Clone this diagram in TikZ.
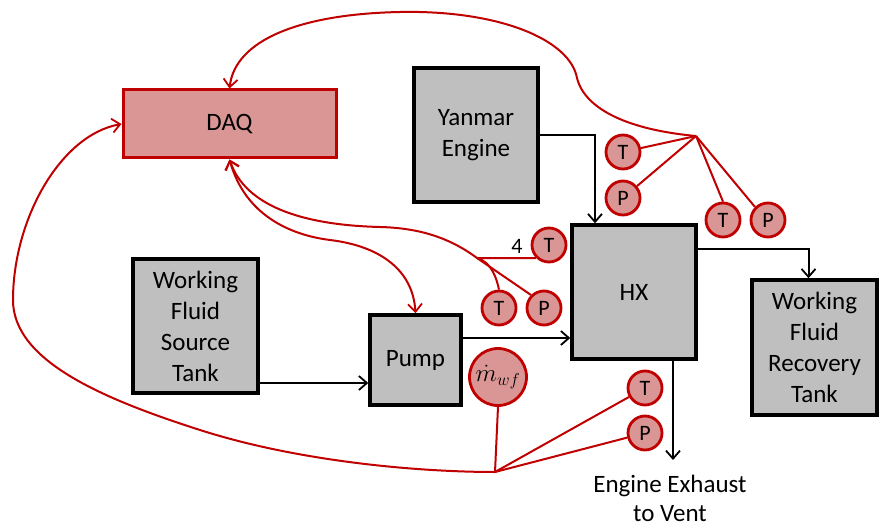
\documentclass[tikz,border=0pt]{standalone}
\usepackage{fontspec}
\setmainfont{Carlito}
\usetikzlibrary{arrows.meta}
\definecolor{dred}{HTML}{C00000}
\definecolor{pinkf}{HTML}{D99694}
\definecolor{boxgray}{HTML}{BFBFBF}
\begin{document}
\begin{tikzpicture}[x=1pt,y=-1pt,
 blk/.style={draw=black,line width=3.5pt,fill=boxgray,inner sep=0pt,align=center,font=\fontsize{25}{31}\selectfont},
 sens/.style={circle,draw=dred,line width=2.8pt,fill=pinkf,minimum size=34pt,inner sep=0pt,font=\fontsize{22}{22}\selectfont},
 flow/.style={draw=black,line width=2pt,-{Straight Barb[length=8pt,width=14pt,line width=1.8pt]}},
 sig/.style={draw=dred,line width=2pt},
 sigarr/.style={sig,-{Straight Barb[length=8pt,width=14pt,line width=1.8pt]}},
]
\useasboundingbox (0,0) rectangle (880,529);

% blocks
\node[draw=dred,line width=3pt,fill=pinkf,minimum width=213pt,minimum height=68pt,font=\fontsize{25}{28}\selectfont] (daq) at (229.5,124) {DAQ};
\node[blk,minimum width=124pt,minimum height=134pt] (yan) at (476,135) {Yanmar\\Engine};
\node[blk,minimum width=124pt,minimum height=134pt] (hx) at (634,292) {HX};
\node[blk,minimum width=125pt,minimum height=135pt] (rec) at (814.5,347.5) {Working\\Fluid\\Recovery\\Tank};
\node[blk,minimum width=125pt,minimum height=134pt] (src) at (195.5,326) {Working\\Fluid\\Source\\Tank};
\node[blk,minimum width=91pt,minimum height=90pt] (pump) at (415.5,360) {Pump};

% flow connectors
\draw[flow] (yan.east) -| ([xshift=-39pt]hx.north);
\draw[flow] ([yshift=43pt]hx.east) -| ([xshift=-6pt]rec.north);
\draw[flow] ([yshift=-57pt]src.east) -- ([yshift=-57pt]src.east -| pump.west);
\draw[flow] ([yshift=22pt]pump.east) -- ([yshift=22pt]pump.east -| hx.west);
\coordinate (exh) at (673,460);
\draw[flow] ([xshift=39pt]hx.south) -- (exh);
\node[font=\fontsize{25}{29}\selectfont,align=center,anchor=north] (exhtxt) at (670,472) {Engine Exhaust\\to Vent};

% sensors near Yanmar
\node[sens] (t1) at (623,152) {T};
\node[sens] (p1) at (623,198) {P};
\node[sens] (t2) at (723,220) {T};
\node[sens] (p2) at (768,220) {P};
\coordinate (h1) at (696,136);
\draw[sig] (h1) -- (t1);
\draw[sig] (h1) -- (p1);
\draw[sig] (h1) -- (t2.north);
\draw[sig] (h1) -- (p2.north west);
\draw[sigarr] (h1) .. controls (630,130) and (585,110) .. (577,78)
  .. controls (570,40) and (500,10) .. (400,12)
  .. controls (300,14) and (235,40) .. (daq.north);

% sensors before HX
\node[sens] (t3) at (549,245) {T};
\node[font=\fontsize{22}{22}\selectfont] (four) at (517,246) {4};
\node[sens] (t4) at (499,308) {T};
\node[sens] (p3) at (544,308) {P};
\coordinate (h2) at (477,258);
\draw[sigarr] (t4.north) .. controls (497,280) and (492,262) .. (h2)
  .. controls (450,238) and (420,228) .. (380,227)
  .. controls (300,225) and (245,205) .. (daq.south);
\draw[sig] (h2) -- (t3.south west);
\draw[sig] (h2) -- (p3.north west);
\draw[sig,{Straight Barb[length=8pt,width=14pt,line width=1.8pt]}-{Straight Barb[length=8pt,width=14pt,line width=1.8pt]}]
  (daq.south) .. controls (245,215) and (290,235) .. (330,240)
  .. controls (380,246) and (413,270) .. (pump.north);

% sensors after HX / flow meter
\node[sens,minimum size=57pt,font=\fontsize{26}{26}\selectfont] (mwf) at (498,377) {$\dot{m}_{wf}$};
\node[sens] (t5) at (645,388) {T};
\node[sens] (p5) at (645,433) {P};
\coordinate (h3) at (495,472);
\draw[sig] (mwf.south) -- (h3);
\draw[sig] (h3) -- (t5);
\draw[sig] (h3) -- (p5);
\draw[sigarr] (h3) .. controls (420,472) and (300,462) .. (200,430)
  .. controls (100,398) and (13,360) .. (13,300)
  .. controls (13,220) and (60,135) .. (daq.west);
\end{tikzpicture}
\end{document}
